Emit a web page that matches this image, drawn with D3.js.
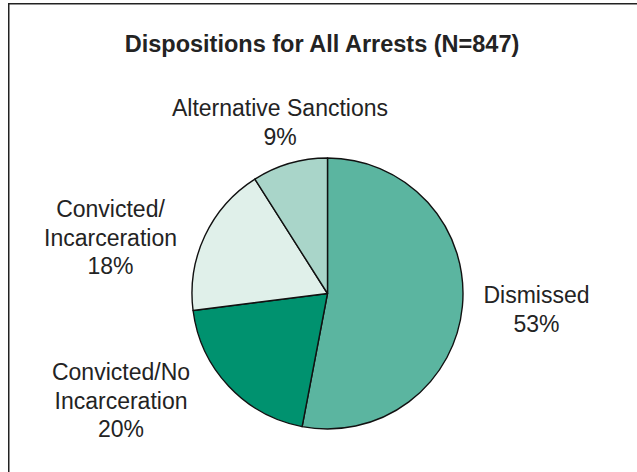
<!DOCTYPE html>
<html>
<head>
<meta charset="utf-8">
<script src="https://cdn.jsdelivr.net/npm/d3@7/dist/d3.min.js"></script>
<style>
  html, body { margin: 0; padding: 0; background: #fff; }
  svg { display: block; }
  text { font-family: "Liberation Sans", Arial, sans-serif; fill: #232323; }
</style>
</head>
<body>
<svg id="chart" width="637" height="472"></svg>
<script>
// Disposition categories, clockwise from 12 o'clock
const categories = ["Dismissed", "Convicted/No Incarceration", "Convicted/Incarceration", "Alternative Sanctions"];
const shares = [53, 20, 18, 9];
// Label text lines per category (the percentage line is appended from the data)
const labelLines = [["Dismissed"], ["Convicted/No", "Incarceration"], ["Convicted/", "Incarceration"], ["Alternative Sanctions"]];
const sliceColors = ["#5bb5a0", "#00926f", "#e0f0ea", "#a9d5c9"];

const title = "Dispositions for All Arrests (N=847)";

const W = 637, H = 472;
const cx = 327.5, cy = 293.5, R = 135.5;
const lineGap = 28.7;
// Label block anchor (x center, first baseline) relative to the pie centre
const labelAnchor = [
  [209, 9.5],
  [-206.5, 86.5],
  [-217, -76.5],
  [-47.5, -177.5]
];

const svg = d3.select("#chart");

// Frame
svg.append("rect")
  .attr("x", 8.75).attr("y", 3.75)
  .attr("width", W + 20).attr("height", H + 20)
  .attr("fill", "none")
  .attr("stroke", "#222")
  .attr("stroke-width", 1.5);

// Title
svg.append("text")
  .attr("x", 322).attr("y", 51.5)
  .attr("text-anchor", "middle")
  .attr("font-size", 23.5)
  .attr("font-weight", "bold")
  .text(title);

const data = categories.map((c, i) => ({ category: c, value: shares[i], i }));

const pie = d3.pie()
  .value(d => d.value)
  .sort(null)
  .startAngle(0)
  .endAngle(2 * Math.PI);

const arc = d3.arc().innerRadius(0).outerRadius(R);

const g = svg.append("g").attr("transform", `translate(${cx},${cy})`);

g.selectAll("path.slice")
  .data(pie(data))
  .join("path")
  .attr("class", "slice")
  .attr("d", arc)
  .attr("fill", d => sliceColors[d.data.i])
  .attr("stroke", "#111")
  .attr("stroke-width", 1.4)
  .attr("stroke-linejoin", "round");

// Labels
const labels = g.selectAll("text.label")
  .data(pie(data))
  .join("text")
  .attr("class", "label")
  .attr("text-anchor", "middle")
  .attr("font-size", 23)
  .attr("transform", d => `translate(${labelAnchor[d.data.i][0]},${labelAnchor[d.data.i][1]})`);

labels.each(function(d) {
  const lines = labelLines[d.data.i].concat([d.data.value + "%"]);
  d3.select(this).selectAll("tspan")
    .data(lines)
    .join("tspan")
    .attr("x", 0)
    .attr("y", (l, k) => k * lineGap)
    .text(l => l);
});
</script>
</body>
</html>
